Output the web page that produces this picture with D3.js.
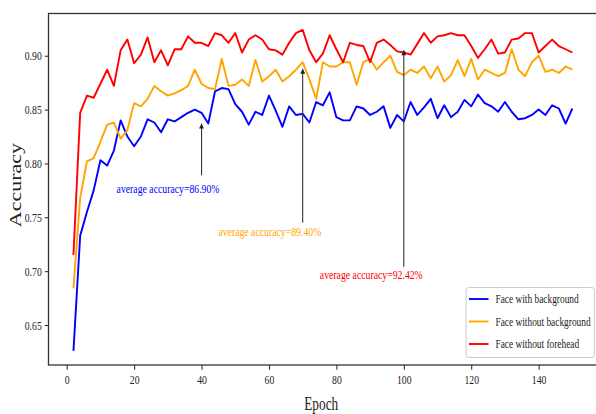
<!DOCTYPE html>
<html>
<head>
<meta charset="utf-8">
<script src="https://cdn.jsdelivr.net/npm/d3@7"></script>
<style>
  body { margin: 0; background: #fff; }
  text { font-family: "Liberation Serif", "Times New Roman", serif; fill: #222; }
  .axis path { display: none; }
  .axis line { stroke: #222; stroke-width: 1; }
</style>
</head>
<body>
<div id="chart"></div>
<script>

var epochs = [2, 4, 6, 8, 10, 12, 14, 16, 18, 20,
  22, 24, 26, 28, 30, 32, 34, 36, 38, 40,
  42, 44, 46, 48, 50, 52, 54, 56, 58, 60,
  62, 64, 66, 68, 70, 72, 74, 76, 78, 80,
  82, 84, 86, 88, 90, 92, 94, 96, 98, 100,
  102, 104, 106, 108, 110, 112, 114, 116, 118, 120,
  122, 124, 126, 128, 130, 132, 134, 136, 138, 140,
  142, 144, 146, 148, 150];

var withBackground = [0.626, 0.733, 0.755, 0.775, 0.803, 0.798, 0.812, 0.840, 0.825, 0.816,
  0.825, 0.841, 0.838, 0.829, 0.841, 0.839, 0.843, 0.847, 0.850, 0.847,
  0.837, 0.867, 0.870, 0.869, 0.855, 0.848, 0.836, 0.848, 0.845, 0.863,
  0.849, 0.834, 0.853, 0.845, 0.846, 0.838, 0.857, 0.854, 0.866, 0.843,
  0.840, 0.840, 0.853, 0.851, 0.845, 0.848, 0.853, 0.833, 0.845, 0.839,
  0.857, 0.845, 0.852, 0.860, 0.842, 0.854, 0.843, 0.848, 0.859, 0.853,
  0.864, 0.856, 0.853, 0.848, 0.857, 0.848, 0.841, 0.842, 0.845, 0.850,
  0.845, 0.854, 0.851, 0.837, 0.851];

var withoutBackground = [0.684, 0.768, 0.802, 0.805, 0.820, 0.836, 0.838, 0.823, 0.831, 0.856,
  0.853, 0.860, 0.872, 0.867, 0.863, 0.865, 0.868, 0.872, 0.887, 0.874,
  0.870, 0.869, 0.897, 0.872, 0.873, 0.878, 0.872, 0.896, 0.876, 0.881,
  0.887, 0.876, 0.881, 0.887, 0.894, 0.878, 0.860, 0.894, 0.890, 0.890,
  0.894, 0.894, 0.873, 0.894, 0.897, 0.887, 0.894, 0.900, 0.885, 0.882,
  0.887, 0.884, 0.890, 0.879, 0.890, 0.876, 0.882, 0.896, 0.881, 0.897,
  0.878, 0.887, 0.884, 0.881, 0.884, 0.906, 0.887, 0.881, 0.894, 0.900,
  0.885, 0.887, 0.884, 0.890, 0.887];

var withoutForehead = [0.715, 0.847, 0.863, 0.861, 0.874, 0.887, 0.872, 0.905, 0.915, 0.893,
  0.901, 0.917, 0.894, 0.905, 0.891, 0.906, 0.906, 0.918, 0.912, 0.912,
  0.909, 0.921, 0.919, 0.912, 0.921, 0.903, 0.915, 0.919, 0.915, 0.906,
  0.905, 0.901, 0.912, 0.921, 0.924, 0.905, 0.894, 0.902, 0.919, 0.906,
  0.894, 0.912, 0.910, 0.909, 0.894, 0.912, 0.915, 0.910, 0.904, 0.903,
  0.901, 0.911, 0.921, 0.912, 0.918, 0.919, 0.921, 0.919, 0.919, 0.909,
  0.898, 0.906, 0.915, 0.902, 0.903, 0.915, 0.916, 0.921, 0.921, 0.903,
  0.909, 0.915, 0.909, 0.906, 0.903];

var seriesNames = ["Face with background", "Face without background", "Face without forehead"];
var seriesColors = ["#0000ff", "#ffa500", "#ff0000"];

var xTicks = [0, 20, 40, 60, 80, 100, 120, 140];
var yTicks = [0.65, 0.70, 0.75, 0.80, 0.85, 0.90];

// annotations: text, arrow epoch, arrow tip / tail values, text anchor (epoch, value)
var annText = ["average accuracy=86.90%", "average accuracy=89.40%", "average accuracy=92.42%"];
var annEpoch = [40, 70, 100];
var annTip = [0.837, 0.888, 0.905];
var annTail = [0.789, 0.745, 0.704];
var annTextX = [14.8, 45, 75.1];
var annTextY = [0.777, 0.737, 0.697];

var squeeze = 0.75; // the picture is narrower than the fonts

var W = 596, H = 414;
var margin = {top: 13.5, right: -1.3, bottom: 49, left: 48.5},
    width = W - margin.left - margin.right,
    height = H - margin.top - margin.bottom;

var svg = d3.select("#chart").append("svg")
    .attr("width", W)
    .attr("height", H);

var g = svg.append("g")
    .attr("transform", "translate(" + margin.left + "," + margin.top + ")");

var x = d3.scaleLinear().domain([-5.4, 157.4]).range([0, width]);
var y = d3.scaleLinear().domain([0.6129, 0.9392]).range([height, 0]);

// squeeze a text horizontally around its own x
function condense(sel, k) {
  sel.each(function() {
    var x0 = +d3.select(this).attr("x") || 0;
    d3.select(this).attr("transform",
      "translate(" + x0 + ",0) scale(" + k + ",1) translate(" + (-x0) + ",0)");
  });
}

// x axis
var xAxis = g.append("g")
    .attr("class", "axis")
    .attr("transform", "translate(0," + height + ")")
    .call(d3.axisBottom(x).tickValues(xTicks).tickSize(4.7).tickPadding(5).tickFormat(d3.format("d")));
xAxis.selectAll("text").style("font-size", "13px");
condense(xAxis.selectAll("text"), squeeze);

// y axis
var yAxis = g.append("g")
    .attr("class", "axis")
    .call(d3.axisLeft(y).tickValues(yTicks).tickSize(3.7).tickPadding(3).tickFormat(d3.format(".2f")));
yAxis.selectAll("text").style("font-size", "13px");
condense(yAxis.selectAll("text"), squeeze);

// lines
var lineData = [withBackground, withoutBackground, withoutForehead];
var line = d3.line()
    .x(function(d, i) { return x(epochs[i]); })
    .y(function(d) { return y(d); });

lineData.forEach(function(s, i) {
  g.append("path")
    .datum(s)
    .attr("fill", "none")
    .attr("stroke", seriesColors[i])
    .attr("stroke-width", 1.9)
    .attr("stroke-linejoin", "round")
    .attr("d", line);
});

// arrow head
svg.append("defs").append("marker")
    .attr("id", "head")
    .attr("viewBox", "0 0 10 10")
    .attr("refX", 10).attr("refY", 5)
    .attr("markerWidth", 6).attr("markerHeight", 5)
    .attr("markerUnits", "userSpaceOnUse")
    .attr("orient", "auto")
  .append("path")
    .attr("d", "M0,0 L10,5 L0,10 z")
    .attr("fill", "#222");

annText.forEach(function(t, i) {
  g.append("line")
    .attr("x1", x(annEpoch[i])).attr("x2", x(annEpoch[i]))
    .attr("y1", y(annTail[i])).attr("y2", y(annTip[i]))
    .attr("stroke", "#333")
    .attr("stroke-width", 1.1)
    .attr("marker-end", "url(#head)");

  var txt = g.append("text")
    .attr("x", x(annTextX[i]))
    .attr("y", y(annTextY[i]))
    .attr("dy", "0.35em")
    .style("font-size", "13px")
    .style("fill", seriesColors[i])
    .text(t);
  condense(txt, squeeze);
});

// spines
g.append("rect")
    .attr("x", 0).attr("y", 0)
    .attr("width", width).attr("height", height)
    .attr("fill", "none")
    .attr("stroke", "#333")
    .attr("stroke-width", 1.3);

// axis labels
var xl = svg.append("text")
    .attr("x", margin.left + x(75.5))
    .attr("y", 410)
    .attr("text-anchor", "middle")
    .style("font-size", "19px")
    .text("Epoch");
condense(xl, 0.7);

svg.append("text")
    .attr("transform", "translate(20.5,185) rotate(-90) scale(1," + squeeze + ")")
    .attr("text-anchor", "middle")
    .style("font-size", "22px")
    .text("Accuracy");

// legend
var legend = svg.append("g").attr("transform", "translate(466,287.5)");
legend.append("rect")
    .attr("width", 128.5).attr("height", 70)
    .attr("rx", 3)
    .attr("fill", "#fff")
    .attr("fill-opacity", 0.85)
    .attr("stroke", "#ccc")
    .attr("stroke-width", 1);

seriesNames.forEach(function(n, i) {
  var row = legend.append("g").attr("transform", "translate(0," + (11.5 + i * 22.5) + ")");
  row.append("line")
    .attr("x1", 3).attr("x2", 22.5)
    .attr("stroke", seriesColors[i])
    .attr("stroke-width", 1.9);
  var t = row.append("text")
    .attr("x", 29.5)
    .attr("dy", "0.35em")
    .style("font-size", "12.5px")
    .text(n);
  condense(t, squeeze);
});

</script>
</body>
</html>
